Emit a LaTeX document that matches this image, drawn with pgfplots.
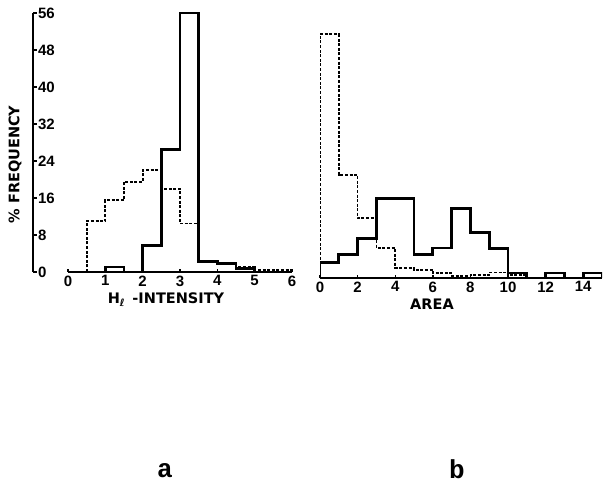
\documentclass[border=0pt]{standalone}
\usepackage{fontspec}
\setmainfont{Liberation Sans}
\newfontfamily\lblfont{DejaVu Sans}
\newfontfamily\capfont{Liberation Mono}
\usepackage{pgfplots}
\pgfplotsset{compat=1.18}

\pgfplotsset{
  hist/.style={
    scale only axis, height=259pt, ymin=0, ymax=56,
    axis line style={line width=2pt, -},
    tick style={line width=1.4pt, black},
    tick align=inside, major tick length=3pt,
    tick label style={font=\bfseries\fontsize{15}{15}\selectfont},
    label style={font=\lblfont\bfseries\fontsize{14.5}{15}\selectfont},
    /pgf/number format/assume math mode=true,
  },
  solidbar/.style={const plot mark left, line width=2.8pt, black, no marks},
  dashbar/.style={const plot mark left, line width=1.7pt, black, no marks,
    dash pattern=on 3pt off 1.6pt},
}

\begin{document}
\begin{tikzpicture}
\useasboundingbox (0pt,0pt) rectangle (605pt,489pt);

% panel a, the y axis on its own
\begin{axis}[hist, at={(33pt,217pt)}, anchor=south west, width=10pt,
  xmin=0, xmax=1, axis y line*=left, axis x line=none, xtick=\empty,
  ytick={0,8,...,56}, major tick length=4pt,
  yticklabel style={anchor=west, xshift=1.5pt},
  ylabel={\% FREQUENCY},
  ylabel style={at={(axis description cs:-1.8,0.415)}, anchor=center}]
\end{axis}

% panel a, histograms
\begin{axis}[hist, at={(68pt,217pt)}, anchor=south west, width=224pt,
  xmin=0, xmax=6, axis x line*=bottom, axis y line=none, ytick=\empty,
  xtick={0,...,6},
  xlabel={H\textsubscript{ℓ}\enspace-INTENSITY},
  xlabel style={xshift=-14pt}]
\addplot[dashbar] coordinates {
(0.5,0) (0.5,11) (1,15.5) (1.5,19.5) (2,22) (2.5,18) (3,10.5)
(3.5,2.5) (4,1.8) (4.5,1.2) (5,0.5) (6,0)
};
\addplot[solidbar] coordinates {
(1,0) (1,1.1) (1.5,0) (2,5.8) (2.5,26.5) (3,56) (3.5,2.2)
(4,1.8) (4.5,0.8) (5,0)
};
\end{axis}

% panel b
\begin{axis}[hist, at={(320pt,211pt)}, anchor=south west, width=282pt,
  xmin=0, xmax=15, axis x line*=bottom, axis y line=none, ytick=\empty,
  xtick={0,2,...,14},
  xlabel={AREA},
  xlabel style={xshift=-29pt}]
\addplot[dashbar] coordinates {
(0,0) (0,52.7) (1,22.3) (2,12.9) (3,6.5) (4,2.2) (5,1.8) (6,1.1)
(7,0.5) (8,0.7) (9,1.2) (10,0.6) (11,0)
};
\addplot[solidbar] coordinates {
(0,0) (0,3.4) (1,5.1) (2,8.5) (3,17.2) (5,5.1) (6,6.5) (7,15)
(8,9.8) (9,6.4) (10,1.1) (11,0) (12,1.1) (13,0) (14,1.1) (15,0)
};
\end{axis}

\node[font=\capfont\bfseries\fontsize{26}{26}\selectfont, anchor=base] at (165pt,11pt) {a};
\node[font=\capfont\bfseries\fontsize{26}{26}\selectfont, anchor=base] at (457pt,10pt) {b};
\end{tikzpicture}
\end{document}
